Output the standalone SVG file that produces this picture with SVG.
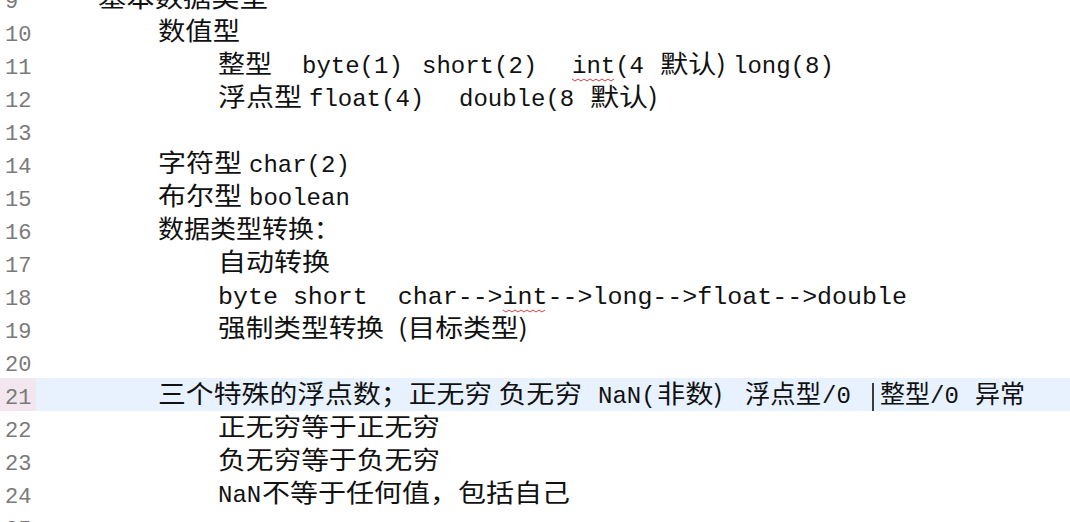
<svg xmlns="http://www.w3.org/2000/svg" width="1070" height="522" viewBox="0 0 1070 522">
<style>
.n{font-family:"Liberation Mono",monospace;font-size:22px;fill:#7a7a7a}
.c{font-family:"Noto Sans CJK SC",sans-serif;font-size:25px;fill:#111}
.m{font-family:"Liberation Mono",monospace;font-size:24px;fill:#111}
.sq{fill:none;stroke:#d04040;stroke-width:1}
</style>
<rect width="1070" height="522" fill="#fff"/>
<rect x="36" y="378" width="1034" height="33" fill="#e8f2fe"/>
<rect x="0" y="378" width="36" height="33" fill="#f3e6ee"/>
<g id="gutter" class="n">
<text x="5" y="8">9</text><text x="5" y="41">10</text><text x="5" y="74">11</text><text x="5" y="107">12</text><text x="5" y="140">13</text><text x="5" y="173">14</text><text x="5" y="206">15</text><text x="5" y="239">16</text><text x="5" y="272">17</text><text x="5" y="305">18</text><text x="5" y="338">19</text><text x="5" y="371">20</text><text x="5" y="404">21</text><text x="5" y="437">22</text><text x="5" y="470">23</text><text x="5" y="503">24</text><text x="5" y="536">25</text>
</g>
<g id="code">
<text class="c" x="98" y="7" textLength="170" lengthAdjust="spacingAndGlyphs">基本数据类型</text>
<text class="c" x="158" y="40" textLength="82" lengthAdjust="spacingAndGlyphs">数值型</text>
<text class="c" x="218" y="73" textLength="54" lengthAdjust="spacingAndGlyphs">整型</text>
<text class="m" x="302" y="73">byte(1)</text>
<text class="m" x="422" y="73">short(2)</text>
<text class="m" x="572" y="73">int(4</text>
<text class="c" x="660" y="73" textLength="66" lengthAdjust="spacingAndGlyphs">默认)</text>
<text class="m" x="733" y="73">long(8)</text>
<text class="c" x="218" y="106" textLength="84" lengthAdjust="spacingAndGlyphs">浮点型</text>
<text class="m" x="309" y="106">float(4)</text>
<text class="m" x="459" y="106">double(8</text>
<text class="c" x="590" y="106" textLength="68" lengthAdjust="spacingAndGlyphs">默认)</text>
<text class="c" x="158" y="172" textLength="84" lengthAdjust="spacingAndGlyphs">字符型</text>
<text class="m" x="249" y="172">char(2)</text>
<text class="c" x="158" y="205" textLength="84" lengthAdjust="spacingAndGlyphs">布尔型</text>
<text class="m" x="249" y="205">boolean</text>
<text class="c" x="158" y="238" textLength="182" lengthAdjust="spacingAndGlyphs">数据类型转换：</text>
<text class="c" x="218" y="271" textLength="112" lengthAdjust="spacingAndGlyphs">自动转换</text>
<text class="m" x="218" y="304" textLength="689" lengthAdjust="spacingAndGlyphs" xml:space="preserve">byte short  char--&gt;int--&gt;long--&gt;float--&gt;double</text>
<text class="c" x="218" y="337" textLength="166" lengthAdjust="spacingAndGlyphs">强制类型转换</text>
<text class="c" x="398" y="337" textLength="130" lengthAdjust="spacingAndGlyphs">(目标类型)</text>
<text class="c" x="158" y="403" textLength="424" lengthAdjust="spacingAndGlyphs">三个特殊的浮点数；正无穷 负无穷</text>
<text class="m" x="598" y="403">NaN(</text>
<text class="c" x="657" y="403" textLength="66" lengthAdjust="spacingAndGlyphs">非数)</text>
<text class="c" x="745" y="403" textLength="76" lengthAdjust="spacingAndGlyphs">浮点型</text>
<text class="m" x="822" y="403">/0</text>
<line x1="873" y1="383" x2="873" y2="411" stroke="#000" stroke-width="1.5"/>
<text class="c" x="880" y="403" textLength="50" lengthAdjust="spacingAndGlyphs">整型</text>
<text class="m" x="930" y="403">/0</text>
<text class="c" x="975" y="403" textLength="50" lengthAdjust="spacingAndGlyphs">异常</text>
<text class="c" x="218" y="436" textLength="222" lengthAdjust="spacingAndGlyphs">正无穷等于正无穷</text>
<text class="c" x="218" y="469" textLength="222" lengthAdjust="spacingAndGlyphs">负无穷等于负无穷</text>
<text class="m" x="218" y="502">NaN</text>
<text class="c" x="262" y="502" textLength="308" lengthAdjust="spacingAndGlyphs">不等于任何值，包括自己</text>
<path class="sq" d="M572 79 l3 2 l3 -2 l3 2 l3 -2 l3 2 l3 -2 l3 2 l3 -2 l3 2 l3 -2 l3 2 l3 -2 l3 2 l3 -2"/>
<path class="sq" d="M503 310 l3 2 l3 -2 l3 2 l3 -2 l3 2 l3 -2 l3 2 l3 -2 l3 2 l3 -2 l3 2 l3 -2 l3 2 l3 -2"/>
</g>
</svg>
